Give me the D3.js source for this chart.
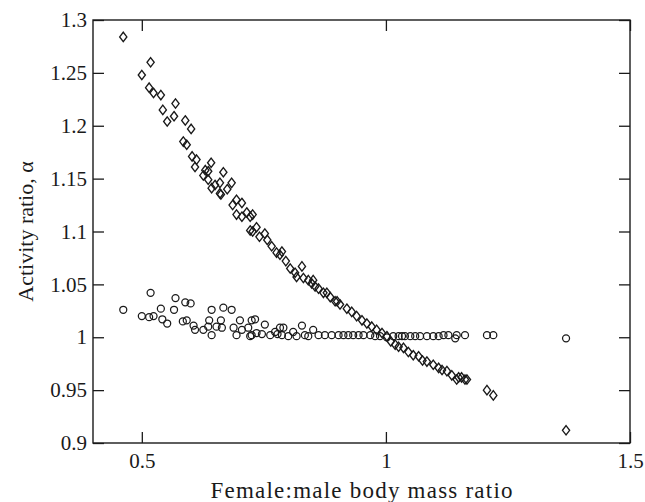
<!DOCTYPE html>
<html>
<head>
<meta charset="utf-8">
<script src="https://cdn.jsdelivr.net/npm/d3@7"></script>
<style>
  body { margin: 0; background: #fff; }
  text { font-family: "Liberation Serif", "Times New Roman", serif; fill: #1a1a1a; }
</style>
</head>
<body>
<div id="chart"></div>
<script>
const width = 645;
const height = 502;
const margin = { top: 20, right: 15, bottom: 59, left: 93 };
const ink = "#1a1a1a";

// diamonds: activity ratio of the scaled species
const diamondMass = [0.462, 0.518, 0.500, 0.515, 0.524, 0.539, 0.569, 0.543, 0.566, 0.552,
    0.589, 0.601, 0.585, 0.592, 0.603, 0.609, 0.642, 0.667, 0.684, 0.626,
    0.636, 0.643, 0.660, 0.660, 0.636, 0.650, 0.662, 0.686, 0.694, 0.705,
    0.694, 0.705, 0.722, 0.727, 0.722, 0.727, 0.741, 0.752, 0.757, 0.766,
    0.783, 0.787, 0.804, 0.814, 0.828, 0.831, 0.841, 0.851, 0.855, 0.879,
    0.817, 0.848, 0.872, 0.886, 0.896, 0.906, 0.920, 0.930, 0.940, 0.951,
    0.961, 0.971, 0.981, 0.992, 1.002, 1.019, 1.036, 1.046, 1.056, 1.067,
    1.084, 1.097, 1.108, 1.125, 1.145, 1.166, 1.149, 1.162, 1.207, 1.220,
    1.369, 0.776, 0.795, 0.862, 0.900, 1.010, 1.026, 1.075, 1.115, 1.135,
    0.612, 0.630, 0.675, 0.715, 0.735, 1.155];
const diamondAlpha = [1.284, 1.260, 1.248, 1.236, 1.231, 1.229, 1.221, 1.215, 1.209, 1.204,
    1.205, 1.197, 1.185, 1.182, 1.171, 1.161, 1.165, 1.156, 1.146, 1.153,
    1.149, 1.141, 1.146, 1.136, 1.157, 1.144, 1.135, 1.125, 1.130, 1.127,
    1.116, 1.114, 1.114, 1.116, 1.101, 1.100, 1.095, 1.098, 1.092, 1.086,
    1.078, 1.081, 1.065, 1.061, 1.067, 1.056, 1.054, 1.054, 1.048, 1.042,
    1.057, 1.051, 1.042, 1.038, 1.034, 1.031, 1.027, 1.024, 1.020, 1.016,
    1.013, 1.010, 1.007, 1.004, 1.001, 0.993, 0.990, 0.986, 0.983, 0.982,
    0.977, 0.974, 0.971, 0.968, 0.960, 0.960, 0.962, 0.960, 0.950, 0.945,
    0.912, 1.080, 1.072, 1.046, 1.034, 0.996, 0.991, 0.978, 0.969, 0.964,
    1.168, 1.158, 1.140, 1.118, 1.104, 0.962];

// circles: activity ratio of the unscaled species
const circleMass = [0.462, 0.518, 0.500, 0.515, 0.524, 0.539, 0.542, 0.552, 0.569, 0.566,
    0.589, 0.600, 0.584, 0.592, 0.606, 0.609, 0.626, 0.638, 0.643, 0.636,
    0.643, 0.653, 0.662, 0.667, 0.664, 0.684, 0.688, 0.694, 0.701, 0.705,
    0.718, 0.725, 0.725, 0.735, 0.722, 0.752, 0.746, 0.763, 0.773, 0.783,
    0.790, 0.787, 0.800, 0.810, 0.817, 0.828, 0.834, 0.841, 0.851, 0.862,
    0.875, 0.889, 0.903, 0.913, 0.923, 0.933, 0.944, 0.954, 0.968, 0.978,
    0.988, 1.002, 1.015, 1.033, 1.026, 1.039, 1.050, 1.060, 1.070, 1.084,
    1.097, 1.108, 1.118, 1.128, 1.142, 1.145, 1.162, 1.207, 1.220, 1.369,
    0.778, 0.732];
const circleAlpha = [1.026, 1.042, 1.020, 1.019, 1.020, 1.027, 1.017, 1.013, 1.037, 1.026,
    1.033, 1.032, 1.015, 1.016, 1.011, 1.007, 1.007, 1.016, 1.026, 1.010,
    1.002, 1.010, 1.016, 1.028, 1.009, 1.026, 1.009, 1.002, 1.016, 1.007,
    1.009, 1.016, 1.002, 1.004, 1.001, 1.012, 1.003, 1.002, 1.005, 1.009,
    1.009, 1.002, 1.001, 1.005, 1.001, 1.011, 1.002, 1.001, 1.007, 1.002,
    1.002, 1.002, 1.002, 1.002, 1.002, 1.002, 1.002, 1.002, 1.002, 1.001,
    1.001, 1.000, 1.001, 1.001, 1.001, 1.001, 1.001, 1.001, 1.001, 1.001,
    1.001, 1.001, 1.002, 1.002, 0.999, 1.002, 1.002, 1.002, 1.002, 0.999,
    1.003, 1.017];

const xTicks = [0.5, 1, 1.5];
const xTickLabels = ["0.5", "1", "1.5"];
const yTicks = [0.9, 0.95, 1, 1.05, 1.1, 1.15, 1.2, 1.25, 1.3];
const yTickLabels = ["0.9", "0.95", "1", "1.05", "1.1", "1.15", "1.2", "1.25", "1.3"];

const x = d3.scaleLinear().domain([0.4, 1.5]).range([margin.left, width - margin.right]);
const y = d3.scaleLinear().domain([0.9, 1.3]).range([height - margin.bottom, margin.top]);

const svg = d3.select("#chart")
    .append("svg")
    .attr("width", width)
    .attr("height", height);

const tickLen = 11;

function styleAxis(g) {
    g.select(".domain").remove();
    g.selectAll(".tick line").attr("stroke", ink).attr("stroke-width", 1.3);
    g.selectAll(".tick text").attr("font-size", 21).attr("fill", ink)
        .attr("font-family", "Liberation Serif, serif");
}

svg.append("g")
    .attr("transform", `translate(0,${height - margin.bottom})`)
    .call(d3.axisBottom(x).tickValues(xTicks).tickSize(-tickLen).tickPadding(10)
        .tickFormat((d, i) => xTickLabels[i]))
    .call(styleAxis);

svg.append("g")
    .attr("transform", `translate(0,${margin.top})`)
    .call(d3.axisTop(x).tickValues(xTicks).tickSize(-tickLen).tickFormat(""))
    .call(styleAxis);

svg.append("g")
    .attr("transform", `translate(${margin.left},0)`)
    .call(d3.axisLeft(y).tickValues(yTicks).tickSize(-tickLen).tickPadding(6)
        .tickFormat((d, i) => yTickLabels[i]))
    .call(styleAxis);

svg.append("g")
    .attr("transform", `translate(${width - margin.right},0)`)
    .call(d3.axisRight(y).tickValues(yTicks).tickSize(-tickLen).tickFormat(""))
    .call(styleAxis);

// frame
svg.append("rect")
    .attr("x", margin.left)
    .attr("y", margin.top)
    .attr("width", width - margin.left - margin.right)
    .attr("height", height - margin.top - margin.bottom)
    .attr("fill", "none")
    .attr("stroke", ink)
    .attr("stroke-width", 1.4);

const circles = circleMass.map((m, i) => ({ m, a: circleAlpha[i] }));
const diamonds = diamondMass.map((m, i) => ({ m, a: diamondAlpha[i] }));

svg.append("g")
    .selectAll("circle")
    .data(circles)
    .join("circle")
    .attr("cx", d => x(d.m))
    .attr("cy", d => y(d.a))
    .attr("r", 3.5)
    .attr("fill", "none")
    .attr("stroke", ink)
    .attr("stroke-width", 1.25);

svg.append("g")
    .selectAll("path")
    .data(diamonds)
    .join("path")
    .attr("transform", d => `translate(${x(d.m)},${y(d.a)})`)
    .attr("d", "M0,-4.7L3.6,0L0,4.7L-3.6,0Z")
    .attr("fill", "none")
    .attr("stroke", ink)
    .attr("stroke-width", 1.35);

// axis titles
svg.append("text")
    .attr("x", (margin.left + width - margin.right) / 2)
    .attr("y", 498)
    .attr("text-anchor", "middle")
    .attr("font-size", 23)
    .attr("textLength", 302)
    .text("Female:male body mass ratio");

svg.append("text")
    .attr("transform", `translate(33,${(margin.top + height - margin.bottom) / 2}) rotate(-90)`)
    .attr("text-anchor", "middle")
    .attr("font-size", 22)
    .text("Activity ratio, α");
</script>
</body>
</html>
